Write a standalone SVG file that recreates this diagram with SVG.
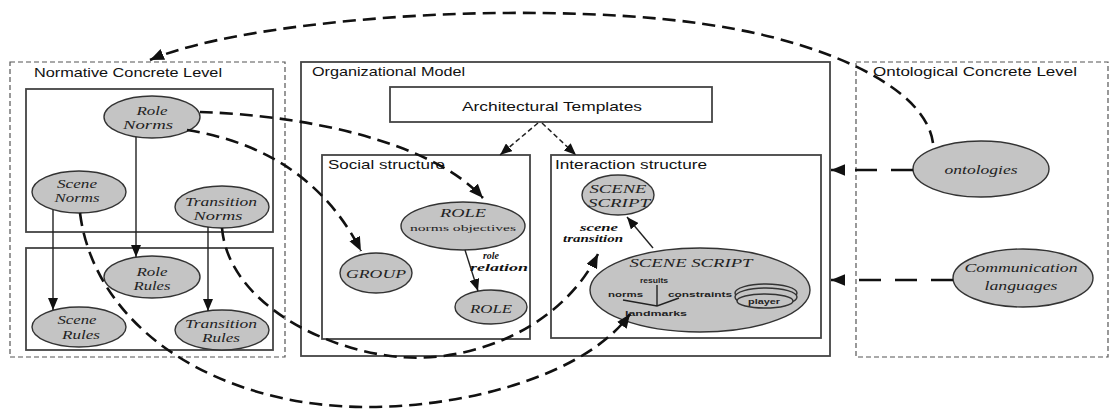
<svg xmlns="http://www.w3.org/2000/svg" width="1114" height="410" viewBox="0 0 1114 410">
<defs>
<style>
.dbox{fill:none;stroke:#555;stroke-width:1.2;stroke-dasharray:5 3}
.box{fill:none;stroke:#444;stroke-width:1.8}
.wbox{fill:#fff;stroke:#444;stroke-width:1.8}
.ell{fill:#c4c4c4;stroke:#333;stroke-width:1.4}
.title{font-family:"Liberation Sans",Arial,sans-serif;font-size:13px;fill:#111}
.lab{font-family:"Liberation Serif","Times New Roman",serif;font-style:italic;font-size:13px;fill:#222;text-anchor:middle}
.small{font-family:"Liberation Sans",Arial,sans-serif;font-size:8px;font-weight:bold;fill:#222}
.bi{font-family:"Liberation Serif","Times New Roman",serif;font-style:italic;font-weight:bold;font-size:10px;fill:#111}
.dash{fill:none;stroke:#111;stroke-width:2.6;stroke-dasharray:13 7}
.ldash{fill:none;stroke:#111;stroke-width:2.6;stroke-dasharray:22 14}
.tdash{fill:none;stroke:#222;stroke-width:1.5;stroke-dasharray:5 3}
.solid{fill:none;stroke:#222;stroke-width:1.4}
</style>
<marker id="ah" viewBox="0 0 12 10" refX="12" refY="5" markerWidth="14" markerHeight="12" markerUnits="userSpaceOnUse" orient="auto">
<path d="M0,0 L12,5 L0,10 Z" fill="#111"/>
</marker>
<marker id="ahs" viewBox="0 0 12 10" refX="12" refY="5" markerWidth="12" markerHeight="10" markerUnits="userSpaceOnUse" orient="auto">
<path d="M0,0 L12,5 L0,10 Z" fill="#111"/>
</marker>
</defs>

<g id="normative-level">
<rect class="dbox" x="10" y="62" width="275" height="295"/>
<text class="title" x="34" y="77" textLength="188" lengthAdjust="spacingAndGlyphs">Normative Concrete Level</text>
<rect class="box" x="26" y="89" width="247" height="143"/>
<rect class="box" x="26" y="248" width="247" height="102"/>
</g>

<g id="organizational-model">
<rect class="box" x="301" y="62" width="529" height="294"/>
<text class="title" x="312" y="76" textLength="153" lengthAdjust="spacingAndGlyphs">Organizational Model</text>
</g>

<g id="architectural-templates">
<rect class="wbox" x="390" y="87" width="322" height="35"/>
<text class="title" x="462" y="111" textLength="180" lengthAdjust="spacingAndGlyphs">Architectural Templates</text>
</g>

<g id="social-structure">
<rect class="box" x="322" y="155" width="208" height="184"/>
<text class="title" x="328" y="169" textLength="117" lengthAdjust="spacingAndGlyphs">Social structure</text>
</g>

<g id="interaction-structure">
<rect class="box" x="551" y="155" width="270" height="183"/>
<text class="title" x="555" y="169" textLength="152" lengthAdjust="spacingAndGlyphs">Interaction structure</text>
</g>

<g id="ontological-level">
<rect class="dbox" x="856" y="62" width="252" height="295"/>
<text class="title" x="873" y="76" textLength="204" lengthAdjust="spacingAndGlyphs">Ontological  Concrete Level</text>
</g>

<g id="role-norms">
<ellipse class="ell" cx="152" cy="117" rx="48" ry="21"/>
<text class="lab" x="152" y="115" textLength="31" lengthAdjust="spacingAndGlyphs">Role</text>
<text class="lab" x="148" y="129" textLength="50" lengthAdjust="spacingAndGlyphs">Norms</text>
</g>
<g id="scene-norms">
<ellipse class="ell" cx="79" cy="192" rx="47" ry="21"/>
<text class="lab" x="77" y="188" textLength="40" lengthAdjust="spacingAndGlyphs">Scene</text>
<text class="lab" x="77" y="202" textLength="45" lengthAdjust="spacingAndGlyphs">Norms</text>
</g>
<g id="transition-norms">
<ellipse class="ell" cx="222" cy="207" rx="47" ry="21"/>
<text class="lab" x="221" y="206" textLength="72" lengthAdjust="spacingAndGlyphs">Transition</text>
<text class="lab" x="218" y="220" textLength="49" lengthAdjust="spacingAndGlyphs">Norms</text>
</g>
<g id="role-rules">
<ellipse class="ell" cx="152" cy="277" rx="48" ry="21"/>
<text class="lab" x="152" y="276" textLength="31" lengthAdjust="spacingAndGlyphs">Role</text>
<text class="lab" x="152" y="290" textLength="37" lengthAdjust="spacingAndGlyphs">Rules</text>
</g>
<g id="scene-rules">
<ellipse class="ell" cx="79" cy="327" rx="47" ry="20"/>
<text class="lab" x="77" y="324" textLength="39" lengthAdjust="spacingAndGlyphs">Scene</text>
<text class="lab" x="81" y="339" textLength="38" lengthAdjust="spacingAndGlyphs">Rules</text>
</g>
<g id="transition-rules">
<ellipse class="ell" cx="222" cy="330" rx="47" ry="20"/>
<text class="lab" x="221" y="328" textLength="72" lengthAdjust="spacingAndGlyphs">Transition</text>
<text class="lab" x="221" y="342" textLength="38" lengthAdjust="spacingAndGlyphs">Rules</text>
</g>

<g id="role">
<ellipse class="ell" cx="463" cy="226" rx="62" ry="24"/>
<text class="lab" x="463" y="217" textLength="46" lengthAdjust="spacingAndGlyphs">ROLE</text>
<text class="small" x="410" y="231" textLength="106" lengthAdjust="spacingAndGlyphs" style="font-family:'Liberation Serif',serif;font-weight:normal">norms  objectives</text>
</g>
<g id="group">
<ellipse class="ell" cx="376" cy="273" rx="36" ry="20"/>
<text class="lab" x="376" y="278" textLength="60" lengthAdjust="spacingAndGlyphs">GROUP</text>
</g>
<g id="role-2">
<ellipse class="ell" cx="491" cy="307" rx="36" ry="17"/>
<text class="lab" x="491" y="313" textLength="42" lengthAdjust="spacingAndGlyphs">ROLE</text>
</g>

<g id="scene-script-small">
<ellipse class="ell" cx="618" cy="195" rx="36" ry="20"/>
<text class="lab" x="618" y="193" textLength="57" lengthAdjust="spacingAndGlyphs">SCENE</text>
<text class="lab" x="619" y="207" textLength="62" lengthAdjust="spacingAndGlyphs">SCRIPT</text>
</g>

<g id="scene-script">
<ellipse class="ell" cx="700" cy="290" rx="110" ry="42"/>
<text class="lab" x="691" y="267" textLength="123" lengthAdjust="spacingAndGlyphs">SCENE SCRIPT</text>
<text class="small" x="640" y="283" textLength="28" lengthAdjust="spacingAndGlyphs">results</text>
<text class="small" x="608" y="297" textLength="35" lengthAdjust="spacingAndGlyphs">norms</text>
<text class="small" x="668" y="297" textLength="64" lengthAdjust="spacingAndGlyphs">constraints</text>
<text class="small" x="625" y="316" textLength="62" lengthAdjust="spacingAndGlyphs">landmarks</text>
<path class="solid" d="M657,285 L657,306 M623,300 L657,306 L679,298"/>
</g>

<g id="player">
<ellipse class="ell" cx="766" cy="293" rx="31" ry="9"/>
<ellipse class="ell" cx="766" cy="297" rx="31" ry="9"/>
<ellipse class="ell" cx="765" cy="301" rx="28" ry="7"/>
<text class="small" x="748" y="304" textLength="32" lengthAdjust="spacingAndGlyphs">player</text>
</g>

<g id="ontologies">
<ellipse class="ell" cx="981" cy="169" rx="68" ry="28"/>
<text class="lab" x="981" y="174" textLength="73" lengthAdjust="spacingAndGlyphs">ontologies</text>
</g>
<g id="communication-languages">
<ellipse class="ell" cx="1023" cy="278" rx="70" ry="29"/>
<text class="lab" x="1021" y="272" textLength="113" lengthAdjust="spacingAndGlyphs">Communication</text>
<text class="lab" x="1021" y="290" textLength="73" lengthAdjust="spacingAndGlyphs">languages</text>
</g>

<g id="connectors">
<path class="dash" marker-end="url(#ah)" d="M933,143 C928,105 880,70 800,45 C720,20 620,12 500,13 C380,14 220,30 150,60"/>
<path class="dash" marker-end="url(#ah)" d="M200,112 C300,115 430,140 483,198"/>
<path class="dash" marker-end="url(#ah)" d="M187,130 C250,140 320,170 361,251"/>
<path class="dash" marker-end="url(#ah)" d="M222,228 C228,300 320,350 400,357 C470,363 560,330 598,254"/>
<path class="dash" marker-end="url(#ah)" d="M80,213 C95,330 220,408 370,407 C480,406 590,370 630,314"/>
<path class="ldash" marker-end="url(#ah)" d="M913,170 L831,170"/>
<path class="ldash" marker-end="url(#ah)" d="M953,280 L831,280"/>
<path class="tdash" marker-end="url(#ahs)" d="M538,123 L500,155"/>
<path class="tdash" marker-end="url(#ahs)" d="M542,123 L576,155"/>
<path class="solid" marker-end="url(#ahs)" d="M136,137 L136,257"/>
<path class="solid" marker-end="url(#ahs)" d="M53,210 L53,310"/>
<path class="solid" marker-end="url(#ahs)" d="M208,227 L208,311"/>
<path class="solid" marker-end="url(#ahs)" d="M465,250 L478,291"/>
<path class="solid" marker-end="url(#ahs)" d="M653,248 L627,217"/>
<text class="bi" x="483" y="259" textLength="16" lengthAdjust="spacingAndGlyphs">role</text>
<text class="bi" x="470" y="271" textLength="58" lengthAdjust="spacingAndGlyphs">relation</text>
<text class="bi" x="580" y="231" textLength="38" lengthAdjust="spacingAndGlyphs">scene</text>
<text class="bi" x="563" y="242" textLength="60" lengthAdjust="spacingAndGlyphs">transition</text>
</g>
</svg>
